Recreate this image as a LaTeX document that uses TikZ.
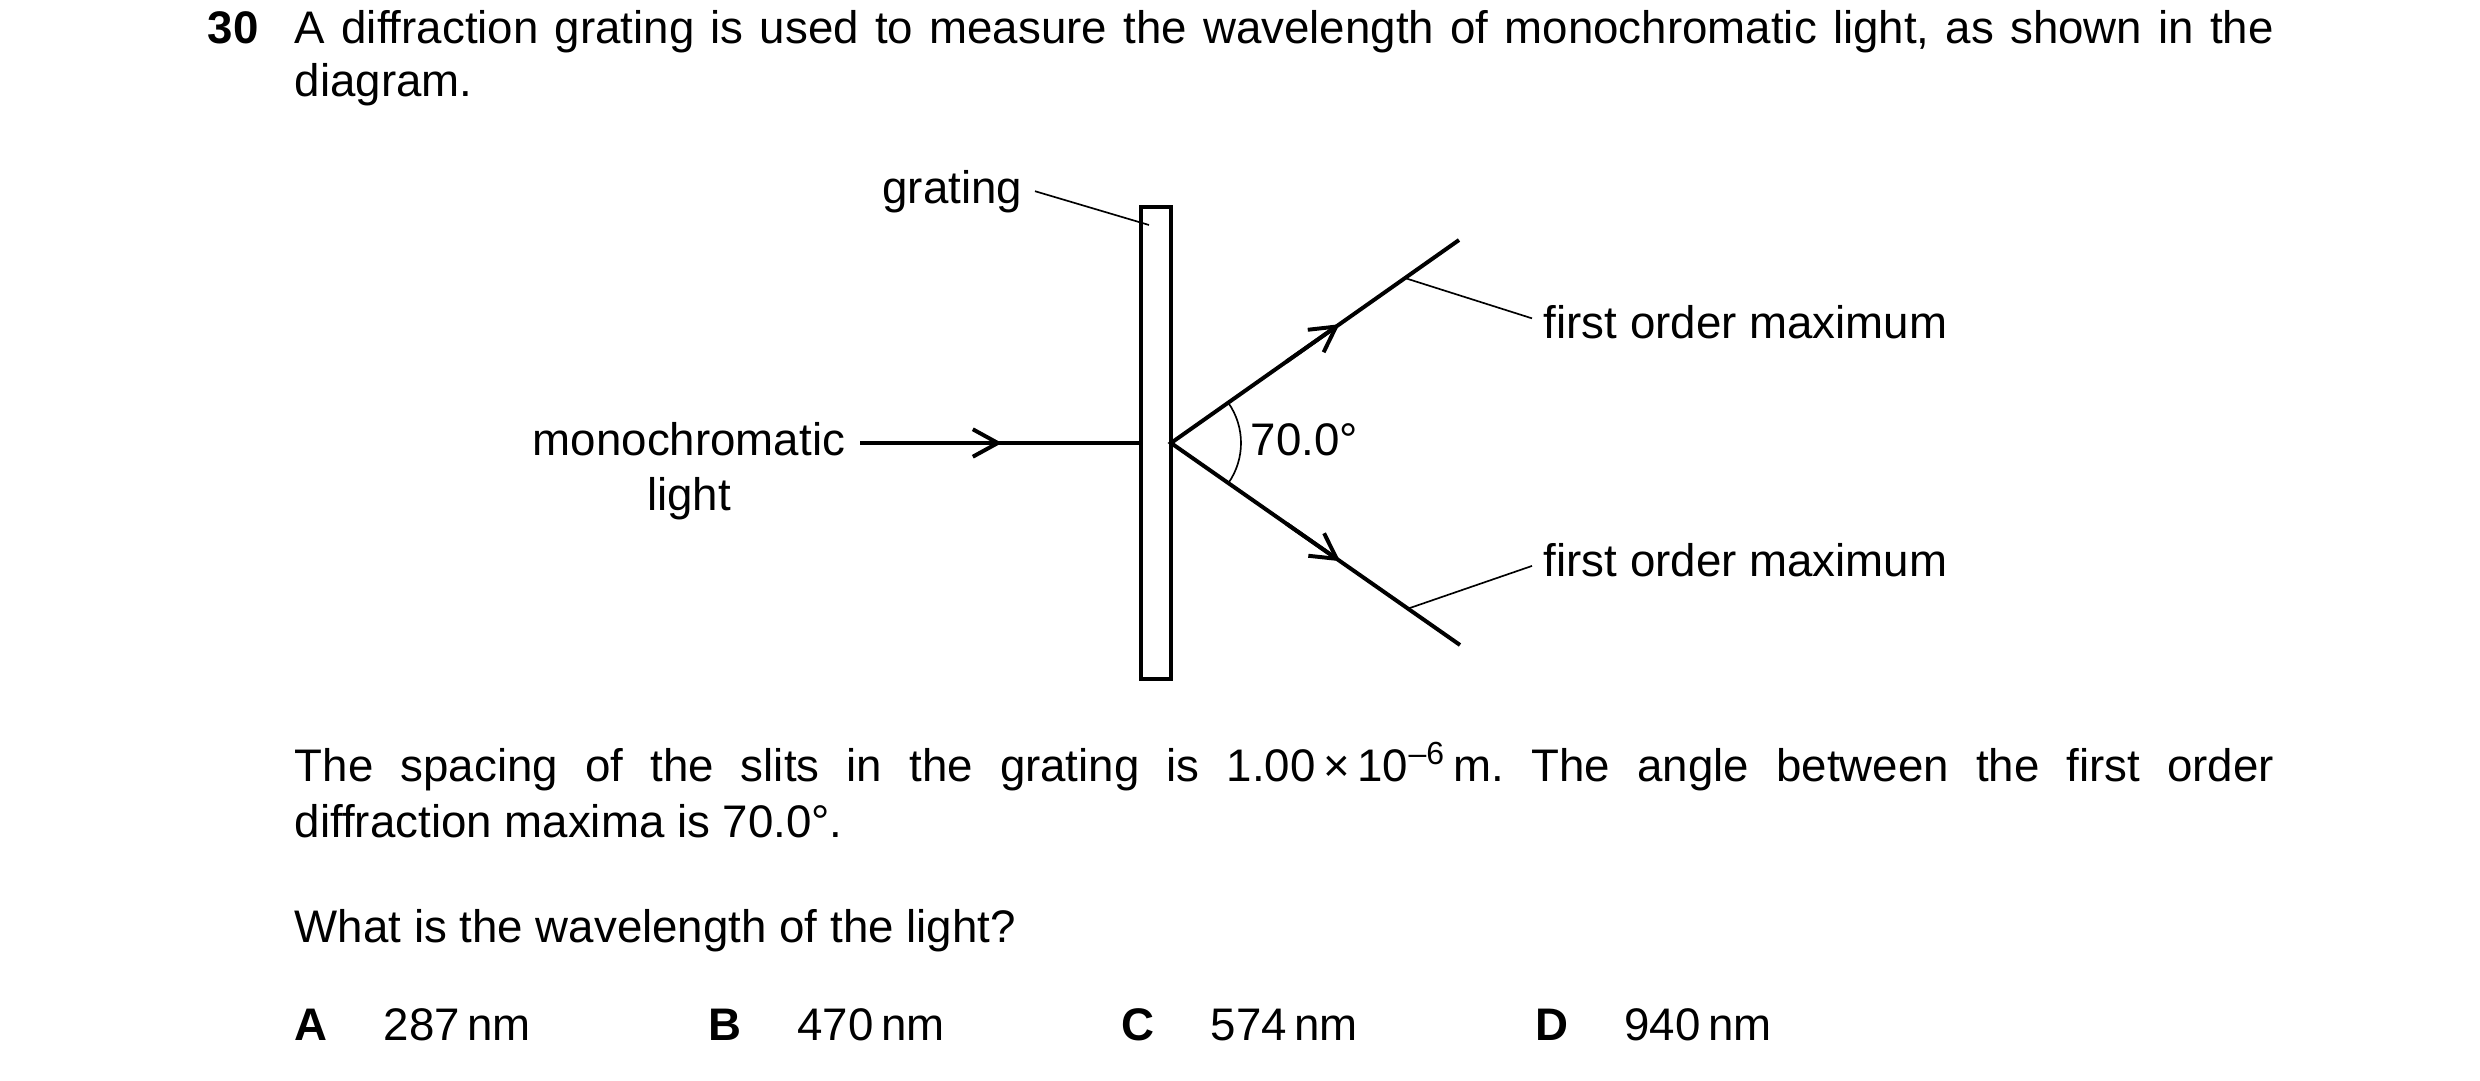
\documentclass[tikz,border=0pt]{standalone}
\usepackage{fontspec}
\setmainfont{Liberation Sans}
\usetikzlibrary{arrows.meta, positioning, calc}
\frenchspacing

\tikzset{
  txt/.style={font=\fontsize{11}{13}\selectfont, inner sep=0pt},
  ray/.style={line width=0.95bp},
  rayarrow/.style={line width=0.95bp, -{Straight Barb[length=6bp, width=6.6bp]}},
  leader/.style={line width=0.4bp},
}

\begin{document}
\begin{tikzpicture}[x=0.24bp, y=-0.24bp]
            \useasboundingbox (0,0) rectangle (2480,1081);

            % Enonce
            \node[txt, anchor=base west, font=\fontsize{11}{13}\selectfont\bfseries] (qnum) at (207,43) {30};
            \node[txt, anchor=base west] (qline1) at (294,43) {\makebox[475bp][s]{A diffraction grating is used to measure the wavelength of monochromatic light, as shown in the}};
            \node[txt, anchor=base west] (qline2) at (294,97) {diagram.};

            % Reseau
            \node[draw, line width=0.95bp, minimum width=7.2bp, minimum height=113.3bp, inner sep=0pt, outer sep=0pt] (grating) at (1156,443) {};
            \node[txt, anchor=base east, inner sep=2.9bp] (gratingLbl) at (1035,203) {grating};
            \coordinate (gratingPt) at (1149,225);
            \draw[leader] (gratingLbl.east) -- (gratingPt);

            % Lumiere incidente
            \node[txt, anchor=base] (mono) at (689,455) {monochromatic};
            \node[txt, anchor=base] (monoLight) at (689,510) {light};
            \coordinate (lightIn) at (860,443);
            \coordinate (lightTip) at ($(lightIn)!0.505!(grating.west)$);
            \draw[ray] (lightIn) -- (grating.west);
            \draw[rayarrow] (lightIn) -- (lightTip);

            % Rayons diffractes
            \coordinate (upEnd) at (1459,240);
            \coordinate (downEnd) at (1460,645);
            \coordinate (upTip) at ($(grating.east)!0.585!(upEnd)$);
            \coordinate (downTip) at ($(grating.east)!0.585!(downEnd)$);
            \draw[ray] (upEnd) -- (grating.east) -- (downEnd);
            \draw[rayarrow] ($(grating.east)!0.4!(upEnd)$) -- (upTip);
            \draw[rayarrow] ($(grating.east)!0.4!(downEnd)$) -- (downTip);

            % Angle
            \draw[leader] ($(grating.east)+(-35:70)$) arc[start angle=-35, end angle=35, radius=70];
            \node[txt, anchor=base west] (angleLbl) at (1250,455) {70.0°};

            % Maxima du premier ordre
            \node[txt, anchor=base west, inner sep=2.64bp] (firstUp) at (1532,338) {first order maximum};
            \node[txt, anchor=base west, inner sep=2.64bp] (firstDown) at (1532,576) {first order maximum};
            \draw[leader] ([yshift=0.8bp]firstUp.west) -- ($(grating.east)!0.8125!(upEnd)$);
            \draw[leader] ([yshift=-1.5bp]firstDown.west) -- ($(grating.east)!0.82!(downEnd)$);

            % Texte sous la figure
            \node[txt, anchor=base west] (spacing1) at (294,781) {\makebox[475bp][s]{The spacing of the slits in the grating is 1.00\,×\,10\textsuperscript{–6}\,m. The angle between the first order}};
            \node[txt, anchor=base west] (spacing2) at (294,837) {diffraction maxima is 70.0°.};
            \node[txt, anchor=base west] (question) at (294,942) {What is the wavelength of the light?};

            % Reponses
            \foreach \l/\v [count=\i from 0] in {A/287, B/470, C/574, D/940} {
                \node[txt, anchor=base west, font=\fontsize{11}{13}\selectfont\bfseries] (opt\l) at (294+413.5*\i,1040) {\l};
                \node[txt, anchor=base west] (val\l) at (383+413.5*\i,1040) {\v\,nm};
            }
        \end{tikzpicture}
\end{document}
